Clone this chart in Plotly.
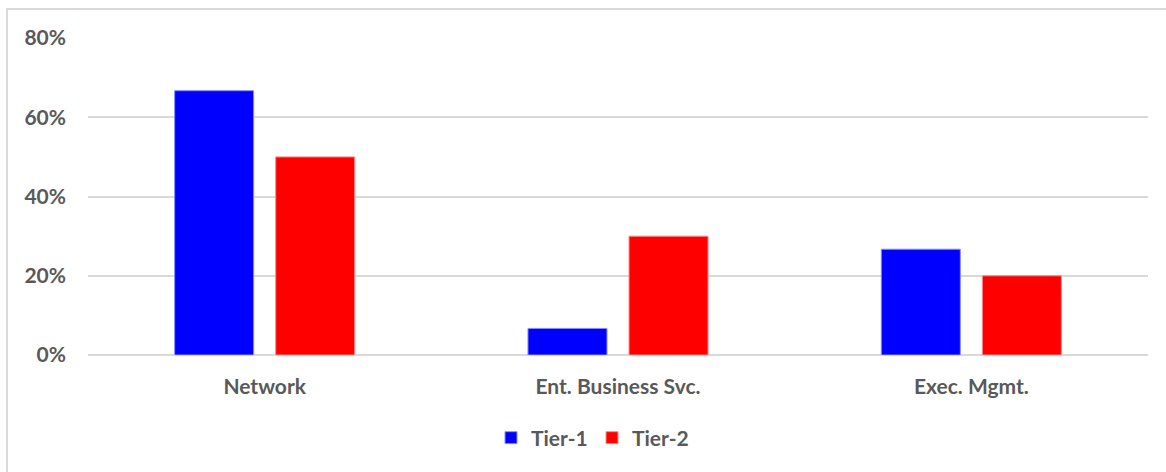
import plotly.graph_objects as go

# Share of respondents by function, per operator tier
categories = ["Network", "Ent. Business Svc.", "Exec. Mgmt."]
tier1 = [0.667, 0.067, 0.267]
tier2 = [0.50, 0.30, 0.20]
y_ticks = [0, 0.2, 0.4, 0.6, 0.8]

FONT = "Lato"
GRAY = "#595959"
GRID = "#d9d9d9"

fig = go.Figure()
fig.add_trace(go.Bar(
    name="Tier-1", x=categories, y=tier1,
    marker=dict(color="#0000ff", line=dict(color="#8c8cff", width=1)),
))
fig.add_trace(go.Bar(
    name="Tier-2", x=categories, y=tier2,
    marker=dict(color="#ff0000", line=dict(color="#ff8c8c", width=1)),
))

W, H = 1166, 472
L, R, T, B = 88, 18, 38, 117
pw, ph = W - L - R, H - T - B

def px_to_paper_x(px):
    return (px - L) / pw

def px_to_paper_y(py):
    return (H - B - py) / ph

fig.update_layout(
    width=W, height=H,
    margin=dict(l=L, r=R, t=T, b=B),
    paper_bgcolor="white", plot_bgcolor="white",
    barmode="group", bargap=0.428, bargroupgap=0.218,
    font=dict(family=FONT, size=21, color=GRAY),
    showlegend=True,
    legend=dict(
        orientation="h", x=px_to_paper_x(592), xanchor="center",
        y=px_to_paper_y(438), yanchor="middle",
        font=dict(family=FONT, size=21, color=GRAY, weight="bold"),
        itemwidth=30, traceorder="normal", entrywidth=56,
    ),
    xaxis=dict(
        showgrid=False, showline=False, ticks="",
        tickfont=dict(family=FONT, size=21, color=GRAY, weight="bold"),
        ticklabelstandoff=17,
    ),
    yaxis=dict(
        range=[0, 0.8], tickvals=y_ticks, tickformat=".0%",
        showgrid=True, gridcolor=GRID, gridwidth=1.5,
        zeroline=True, zerolinecolor=GRID, zerolinewidth=1.5,
        showline=False, ticks="",
        tickfont=dict(family=FONT, size=21, color=GRAY, weight="bold"),
        ticklabelstandoff=21,
    ),
    shapes=[dict(
        type="rect", xref="paper", yref="paper",
        x0=px_to_paper_x(7), x1=px_to_paper_x(1180),
        y0=px_to_paper_y(490), y1=px_to_paper_y(9),
        line=dict(color=GRID, width=2), fillcolor="rgba(0,0,0,0)",
        layer="below",
    )],
)

fig.write_html("out.html")
